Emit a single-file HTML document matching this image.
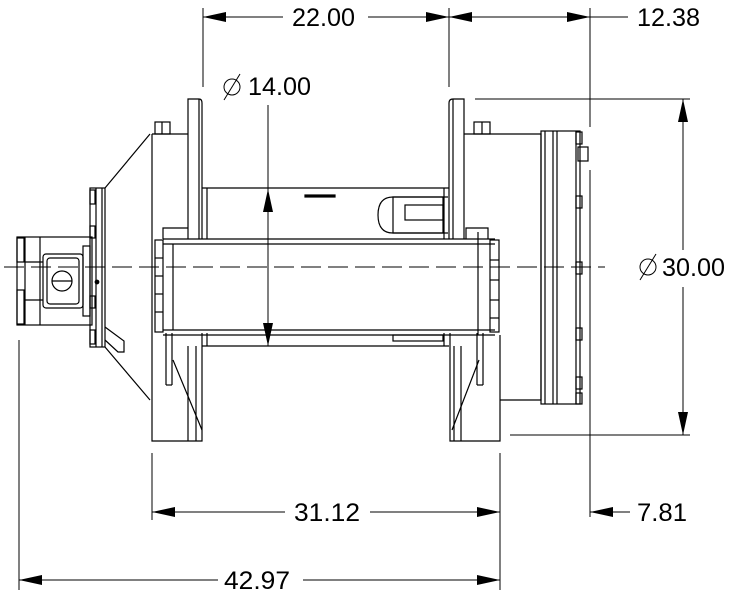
<!DOCTYPE html>
<html><head><meta charset="utf-8"><style>
html,body{margin:0;padding:0;background:#fff;}
svg{display:block;}
text{font-family:"Liberation Sans",Arial,sans-serif;font-size:25px;fill:#000;}
</style></head><body>
<svg width="731" height="599" viewBox="0 0 731 599" xmlns="http://www.w3.org/2000/svg">
<g fill="none" stroke="#000" stroke-width="1.2">
<line x1="4" y1="267" x2="605" y2="267" stroke-dasharray="20,7" stroke-width="1"/>
<rect x="17" y="237" width="75" height="88"/>
<line x1="25" y1="237" x2="25" y2="325"/>
<line x1="40" y1="237" x2="40" y2="325"/>
<rect x="17" y="238" width="7" height="24"/><rect x="17" y="290" width="7" height="34"/>
<rect x="43" y="254" width="40" height="54" rx="3"/>
<rect x="47" y="258" width="32" height="46" rx="3"/>
<circle cx="62" cy="281" r="10"/><line x1="52" y1="281" x2="72" y2="281"/>
<rect x="83" y="246" width="7" height="70"/>
<line x1="25" y1="262" x2="43" y2="262"/><line x1="25" y1="300" x2="43" y2="300"/>
<rect x="90" y="188" width="15" height="159"/>
<line x1="96" y1="188" x2="96" y2="347"/><line x1="102" y1="188" x2="102" y2="347"/>
<rect x="90" y="190" width="5" height="14"/><rect x="90" y="226" width="5" height="12"/>
<rect x="90" y="296" width="5" height="12"/><rect x="90" y="330" width="5" height="14"/>
<circle cx="97" cy="282" r="1.8" fill="#000"/>
<path d="M105 327 L124 341 L124 352 L118 352 L105 340"/>
<line x1="105" y1="188" x2="150" y2="134"/><line x1="105" y1="347" x2="150" y2="400"/>
<path d="M152 134 L188 134 M152 134 L152 441 L202 441 L202 333"/>
<rect x="155" y="122" width="15" height="12"/><line x1="162" y1="122" x2="162" y2="134"/>
<path d="M188 239 L188 99 L199 99 Q202 99 202 103 L202 239"/>
<line x1="199" y1="99" x2="199" y2="239"/>
<line x1="196" y1="346" x2="196" y2="441"/><line x1="188" y1="346" x2="188" y2="441"/>
<line x1="172" y1="333" x2="172" y2="385"/><line x1="166" y1="333" x2="166" y2="385"/>
<line x1="166" y1="385" x2="172" y2="385"/>
<line x1="173" y1="360" x2="202" y2="430"/>
<line x1="202" y1="188" x2="449" y2="188"/><line x1="202" y1="346" x2="449" y2="346"/>
<line x1="207" y1="188" x2="207" y2="239"/><line x1="207" y1="333" x2="207" y2="346"/>
<line x1="444" y1="188" x2="444" y2="239"/><line x1="444" y1="333" x2="444" y2="346"/>
<rect x="305" y="195" width="30" height="2" fill="#000"/>
<path d="M393 197 L448 197 M393 233 L448 233 M393 197 Q378 197 378 215 Q378 233 393 233"/>
<rect x="393" y="197" width="50" height="36"/>
<rect x="405" y="205" width="38" height="15"/>
<rect x="393" y="335" width="50" height="6"/>
<line x1="163" y1="239" x2="495" y2="239"/><line x1="163" y1="244" x2="495" y2="244"/>
<line x1="163" y1="330" x2="495" y2="330"/><line x1="163" y1="335" x2="495" y2="335"/>
<line x1="173" y1="244" x2="173" y2="330"/><line x1="478" y1="232" x2="478" y2="335"/>
<path d="M163 239 L163 228 L188 228"/><path d="M466 239 L466 228 L488 228 L488 239"/>
<rect x="155" y="240" width="8" height="92"/>
<line x1="155" y1="258" x2="163" y2="258"/><line x1="155" y1="276" x2="163" y2="276"/>
<line x1="155" y1="294" x2="163" y2="294"/><line x1="155" y1="312" x2="163" y2="312"/>
<rect x="490" y="240" width="9" height="92"/>
<line x1="490" y1="260" x2="499" y2="260"/><line x1="490" y1="280" x2="499" y2="280"/>
<line x1="490" y1="300" x2="499" y2="300"/><line x1="490" y1="318" x2="499" y2="318"/>
<path d="M449 239 L449 103 Q449 99 453 99 L464 99 L464 239"/>
<line x1="453" y1="99" x2="453" y2="239"/>
<path d="M450 333 L450 441 L500 441 L500 335"/>
<line x1="454" y1="346" x2="454" y2="441"/><line x1="461" y1="346" x2="461" y2="441"/>
<line x1="477" y1="333" x2="477" y2="385"/><line x1="483" y1="333" x2="483" y2="385"/>
<line x1="477" y1="385" x2="483" y2="385"/>
<line x1="479" y1="360" x2="452" y2="430"/>
<path d="M464 134 L541 134 L541 400 L500 400"/>
<rect x="474" y="122" width="16" height="12"/><line x1="482" y1="122" x2="482" y2="134"/>
<rect x="541" y="131" width="39" height="273"/>
<line x1="545" y1="131" x2="545" y2="404"/><line x1="553" y1="131" x2="553" y2="404"/>
<line x1="557" y1="131" x2="557" y2="404"/><line x1="576" y1="131" x2="576" y2="404"/>
<rect x="576" y="132" width="6" height="12"/><rect x="578" y="147" width="10" height="14"/>
<rect x="576" y="196" width="6" height="12"/><rect x="576" y="262" width="6" height="12"/>
<rect x="576" y="328" width="6" height="12"/><rect x="576" y="377" width="6" height="12"/>
<rect x="576" y="393" width="6" height="11"/>
<g stroke-width="1">
<line x1="203" y1="8" x2="203" y2="87"/><line x1="449" y1="8" x2="449" y2="87"/>
<line x1="590" y1="8" x2="590" y2="127"/><line x1="590" y1="170" x2="590" y2="517"/>
<line x1="203" y1="17" x2="283" y2="17"/><line x1="368" y1="17" x2="590" y2="17"/>
<line x1="590" y1="17" x2="628" y2="17"/>
<line x1="475" y1="99" x2="690" y2="99"/><line x1="510" y1="435" x2="690" y2="435"/>
<line x1="683" y1="99" x2="683" y2="250"/><line x1="683" y1="287" x2="683" y2="435"/>
<line x1="268" y1="105" x2="268" y2="346"/>
<line x1="152" y1="453" x2="152" y2="520"/><line x1="500" y1="453" x2="500" y2="590"/>
<line x1="19" y1="340" x2="19" y2="590"/>
<line x1="152" y1="512" x2="285" y2="512"/><line x1="370" y1="512" x2="500" y2="512"/>
<line x1="590" y1="512" x2="630" y2="512"/>
<line x1="19" y1="580" x2="218" y2="580"/><line x1="303" y1="580" x2="500" y2="580"/>
</g>
</g>
<g fill="#000">
<polygon points="203,17 226,12 226,22"/><polygon points="449,17 426,12 426,22"/>
<polygon points="449,17 472,12 472,22"/><polygon points="590,17 567,12 567,22"/>
<polygon points="683,99 678,122 688,122"/><polygon points="683,435 678,412 688,412"/>
<polygon points="268,189 263,212 273,212"/><polygon points="268,346 263,323 273,323"/>
<polygon points="152,512 175,507 175,517"/><polygon points="500,512 477,507 477,517"/>
<polygon points="590,512 613,507 613,517"/>
<polygon points="19,580 42,575 42,585"/><polygon points="500,580 477,575 477,585"/>
</g>
<text x="292" y="26" textLength="63" lengthAdjust="spacingAndGlyphs">22.00</text>
<text x="637" y="26" textLength="63" lengthAdjust="spacingAndGlyphs">12.38</text>
<text x="248" y="95" textLength="63" lengthAdjust="spacingAndGlyphs">14.00</text>
<text x="662" y="276" textLength="63" lengthAdjust="spacingAndGlyphs">30.00</text>
<text x="294" y="521" textLength="66" lengthAdjust="spacingAndGlyphs">31.12</text>
<text x="637" y="521" textLength="50" lengthAdjust="spacingAndGlyphs">7.81</text>
<text x="224" y="589" textLength="66" lengthAdjust="spacingAndGlyphs">42.97</text>
<g fill="none" stroke="#000" stroke-width="1">
<circle cx="232" cy="87" r="8"/><line x1="224" y1="100" x2="240" y2="74"/>
<circle cx="648" cy="267" r="8"/><line x1="640" y1="280" x2="656" y2="254"/>
</g>
</svg>
</body></html>
